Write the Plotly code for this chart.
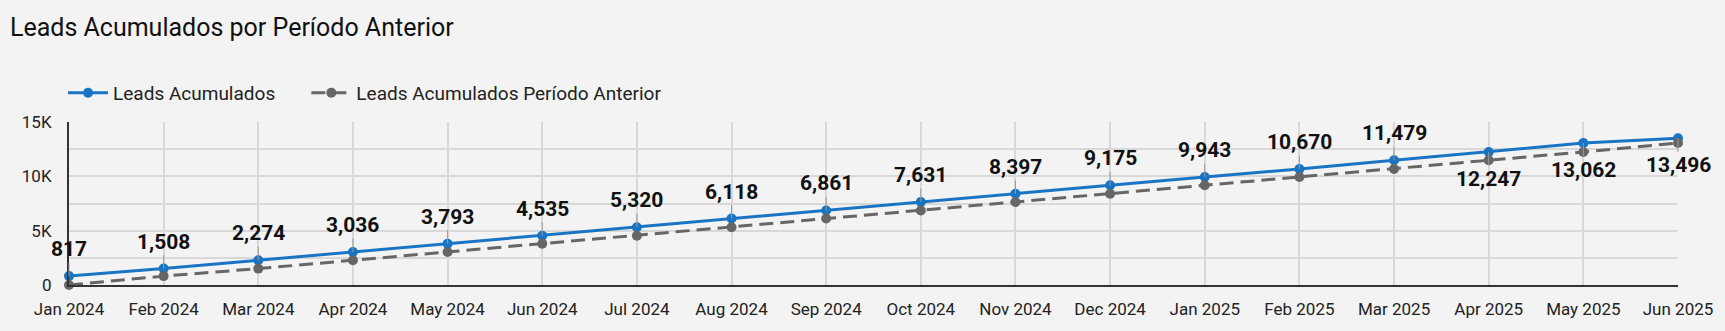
import plotly.graph_objects as go

months = ["Jan 2024", "Feb 2024", "Mar 2024", "Apr 2024", "May 2024", "Jun 2024",
          "Jul 2024", "Aug 2024", "Sep 2024", "Oct 2024", "Nov 2024", "Dec 2024",
          "Jan 2025", "Feb 2025", "Mar 2025", "Apr 2025", "May 2025", "Jun 2025"]
leads = [817, 1508, 2274, 3036, 3793, 4535, 5320, 6118, 6861, 7631, 8397, 9175,
         9943, 10670, 11479, 12247, 13062, 13496]
leads_prev = [0, 817, 1508, 2274, 3036, 3793, 4535, 5320, 6118, 6861, 7631, 8397,
              9175, 9943, 10670, 11479, 12247, 13062]
label_below = [False] * 15 + [True] * 3

BLUE = "#1a74c4"
GRAY = "#666666"
FONT = "Roboto"

fig = go.Figure()
fig.add_trace(go.Scatter(
    x=months, y=leads, name="Leads Acumulados", mode="lines+markers",
    line=dict(color=BLUE, width=3), marker=dict(size=10, color=BLUE),
    cliponaxis=False, legend="legend"))
fig.add_trace(go.Scatter(
    x=months, y=leads_prev, name="Leads Acumulados Período Anterior", mode="lines+markers",
    line=dict(color=GRAY, width=3, dash="14px,7px"), marker=dict(size=10, color=GRAY),
    cliponaxis=False, legend="legend2"))

for m, v, below in zip(months, leads, label_below):
    fig.add_annotation(
        x=m, y=v, text=f"{v:,}", showarrow=True, arrowhead=0, arrowwidth=1,
        arrowcolor="#9a9a9a", ax=0, ay=27 if below else -27,
        font=dict(family=FONT, size=21, color="#111111", weight="bold"))

legend_style = dict(orientation="h", xanchor="left", y=1.178, yanchor="middle",
                    font=dict(family=FONT, size=19, color="#222222"),
                    itemwidth=40, bgcolor="rgba(0,0,0,0)")

fig.update_layout(
    width=1725, height=331,
    paper_bgcolor="#f3f3f3", plot_bgcolor="#f3f3f3",
    margin=dict(l=69, r=42, t=122, b=40),
    font=dict(family=FONT, color="#222222"),
    title=dict(text="Leads Acumulados por Período Anterior", xref="container",
               x=0, xanchor="left", yref="container", y=0.917, yanchor="middle",
               font=dict(family=FONT, size=25, color="#111111"), pad=dict(l=10)),
    showlegend=True,
    legend=dict(x=-0.0037, **legend_style),
    legend2=dict(x=0.1475, **legend_style),
)

fig.update_xaxes(
    type="category", range=[0, len(months) - 1],
    showgrid=True, gridcolor="#d8d8d8", gridwidth=1.5,
    showline=True, linecolor="#333333", linewidth=2,
    ticks="outside", ticklen=8, tickcolor="rgba(0,0,0,0)",
    tickfont=dict(family=FONT, size=17, color="#222222"),
    zeroline=False, fixedrange=True)
fig.update_yaxes(
    range=[0, 15000], tickmode="linear", dtick=5000, tick0=0,
    tickformat="~s", labelalias={"5k": "5K", "10k": "10K", "15k": "15K"},
    showgrid=True, gridcolor="#d8d8d8", gridwidth=1.5,
    minor=dict(dtick=2500, showgrid=True, gridcolor="#d8d8d8", gridwidth=1.5),
    showline=True, linecolor="#333333", linewidth=2,
    ticks="outside", ticklen=12, tickcolor="rgba(0,0,0,0)",
    tickfont=dict(family=FONT, size=17, color="#222222"),
    zeroline=False, fixedrange=True)

fig.write_html("out.html")
